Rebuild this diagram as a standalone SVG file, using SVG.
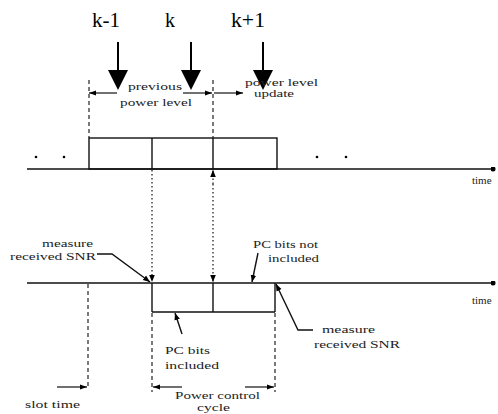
<svg xmlns="http://www.w3.org/2000/svg" width="498" height="414" viewBox="0 0 498 414" font-family="Liberation Serif, Times New Roman, DejaVu Serif, serif">
<defs>
<marker id="ah" viewBox="0 0 10 10" refX="10" refY="5" markerWidth="7" markerHeight="7" markerUnits="userSpaceOnUse" orient="auto"><path d="M0,1 L10,5 L0,9 Z" fill="#000"/></marker>
<marker id="ahl" viewBox="0 0 10 10" refX="10" refY="5" markerWidth="9" markerHeight="7" markerUnits="userSpaceOnUse" orient="auto"><path d="M0,1.5 L10,5 L0,8.5 Z" fill="#000"/></marker>
<marker id="dot" viewBox="0 0 10 10" refX="5" refY="5" markerWidth="5" markerHeight="5" markerUnits="userSpaceOnUse"><circle cx="5" cy="5" r="5" fill="#000"/></marker>
</defs>
<style>
text{font-family:"Liberation Serif","Times New Roman","DejaVu Serif",serif}
.t{font-size:11px;fill:#222}
.k{font-size:20px;fill:#000}
.ln{stroke:#111;stroke-width:1.4;fill:none}
.dash{stroke:#222;stroke-width:1.2;stroke-dasharray:4,3;fill:none}
.dot{stroke:#222;stroke-width:1.3;stroke-dasharray:1.5,2.5;fill:none}
.ar{stroke:#111;stroke-width:1.2;fill:none;marker-end:url(#ahl)}
</style>
<rect width="498" height="414" fill="#fff"/>

<g id="k-labels">
<text class="k" x="92" y="27" textLength="28" lengthAdjust="spacingAndGlyphs">k-1</text>
<text class="k" x="165" y="27">k</text>
<text class="k" x="231" y="27" textLength="34" lengthAdjust="spacingAndGlyphs">k+1</text>
</g>
<g id="big-arrows">
<line x1="118" y1="42" x2="118" y2="72" stroke="#000" stroke-width="2"/>
<polygon points="108,70 128,70 118,90" fill="#000"/>
<line x1="191" y1="42" x2="191" y2="72" stroke="#000" stroke-width="2"/>
<polygon points="181,70 201,70 191,90" fill="#000"/>
<line x1="263" y1="42" x2="263" y2="72" stroke="#000" stroke-width="2"/>
<polygon points="253,70 273,70 263,90" fill="#000"/>
</g>

<g id="upper-labels">
<text class="t" x="128" y="90" textLength="54" lengthAdjust="spacingAndGlyphs">previous</text>
<text class="t" x="120" y="106" textLength="72" lengthAdjust="spacingAndGlyphs">power level</text>
<text class="t" x="245" y="86" textLength="73" lengthAdjust="spacingAndGlyphs">power level</text>
<text class="t" x="254" y="97" font-size="10" textLength="40" lengthAdjust="spacingAndGlyphs">update</text>
</g>

<g id="upper-timeline">
<line class="ln" x1="27" y1="169" x2="493" y2="169" marker-end="url(#dot)"/>
<text class="t" x="472" y="184">time</text>
<rect class="ln" x="89" y="138" width="188" height="31"/>
<line class="ln" x1="152" y1="138" x2="152" y2="169"/>
<line class="ln" x1="213" y1="138" x2="213" y2="169"/>
<circle cx="36" cy="157" r="1.3" fill="#000"/>
<circle cx="64" cy="157" r="1.3" fill="#000"/>
<circle cx="317" cy="157" r="1.3" fill="#000"/>
<circle cx="346" cy="157" r="1.3" fill="#000"/>
</g>

<g id="lower-timeline">
<line class="ln" x1="27" y1="283" x2="493" y2="283" marker-end="url(#dot)"/>
<text class="t" x="472" y="304">time</text>
<line class="ln" x1="152" y1="283" x2="152" y2="312"/>
<line class="ln" x1="152" y1="312" x2="275" y2="312"/>
<line class="ln" x1="213" y1="283" x2="213" y2="312"/>
<line class="ln" x1="275" y1="283" x2="275" y2="312"/>
</g>

<g id="lower-labels">
<text class="t" x="42" y="247" textLength="51" lengthAdjust="spacingAndGlyphs">measure</text>
<text class="t" x="10" y="260" textLength="86" lengthAdjust="spacingAndGlyphs">received SNR</text>
<text class="t" x="253" y="248" textLength="65" lengthAdjust="spacingAndGlyphs">PC bits not</text>
<text class="t" x="268" y="262" textLength="51" lengthAdjust="spacingAndGlyphs">included</text>
<text class="t" x="322" y="333" textLength="53" lengthAdjust="spacingAndGlyphs">measure</text>
<text class="t" x="314" y="348" textLength="86" lengthAdjust="spacingAndGlyphs">received SNR</text>
<text class="t" x="165" y="354" textLength="45" lengthAdjust="spacingAndGlyphs">PC bits</text>
<text class="t" x="165" y="369" textLength="54" lengthAdjust="spacingAndGlyphs">included</text>
<text class="t" x="25" y="408" textLength="55" lengthAdjust="spacingAndGlyphs">slot time</text>
<text class="t" x="175" y="399" textLength="85" lengthAdjust="spacingAndGlyphs">Power control</text>
<text class="t" x="197" y="411" textLength="33" lengthAdjust="spacingAndGlyphs">cycle</text>
</g>

<g id="connectors">
<line class="dash" x1="89" y1="80" x2="89" y2="138"/>
<line class="dash" x1="213" y1="80" x2="213" y2="138"/>
<line class="ar" x1="117" y1="93" x2="89" y2="93"/>
<line class="ar" x1="183" y1="93" x2="212" y2="93"/>
<line class="ar" x1="214" y1="93" x2="243" y2="93"/>
<line class="dot" x1="152" y1="170" x2="152" y2="282" marker-end="url(#ah)"/>
<line class="dot" x1="213" y1="184" x2="213" y2="282" marker-end="url(#ah)"/>
<line class="dot" x1="213" y1="184" x2="213" y2="170" marker-end="url(#ah)"/>
<polyline class="ln" stroke-width="1.1" points="97,254 112,254 150,282" marker-end="url(#ah)"/>
<line class="ln" stroke-width="1.1" x1="258" y1="253" x2="252" y2="282" marker-end="url(#ah)"/>
<polyline class="ln" stroke-width="1.1" points="313,330 298,330 276,284" marker-end="url(#ah)"/>
<line class="ln" stroke-width="1.1" x1="182" y1="334" x2="175" y2="313" marker-end="url(#ah)"/>
<line class="dash" x1="88" y1="284" x2="88" y2="388"/>
<line class="dash" x1="152" y1="313" x2="152" y2="392"/>
<line class="dash" x1="275" y1="313" x2="275" y2="392"/>
<line class="ar" x1="57" y1="387" x2="87" y2="387"/>
<line class="ar" x1="182" y1="387" x2="153" y2="387"/>
<line class="ar" x1="245" y1="387" x2="274" y2="387"/>
</g>
</svg>
